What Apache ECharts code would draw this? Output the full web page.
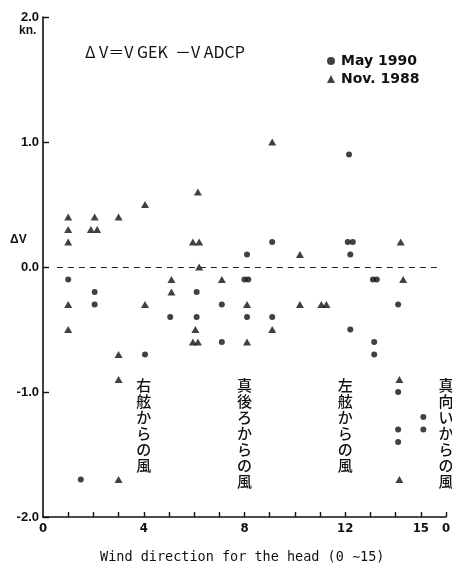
<!DOCTYPE html>
<html><head><meta charset="utf-8">
<script src="https://cdn.jsdelivr.net/npm/echarts@6/dist/echarts.min.js"></script>
<style>html,body{margin:0;padding:0;background:#fff}#c{width:452px;height:565px}</style>
</head><body><div id="c"></div>
<script>
// ---- data ----
const seriesNames = ['May 1990', 'Nov. 1988'];
const mayX = [1.0, 1.5, 2.05, 2.05, 4.05, 5.05, 6.1, 6.1, 7.1, 7.1, 8.0, 8.15, 8.1, 8.1, 9.1, 9.1,
              12.15, 12.1, 12.3, 12.2, 12.2, 13.1, 13.25, 13.15, 13.15, 14.1, 14.1, 14.1, 14.1, 15.1, 15.1];
const mayY = [-0.1, -1.7, -0.2, -0.3, -0.7, -0.4, -0.2, -0.4, -0.3, -0.6, -0.1, -0.1, 0.1, -0.4, 0.2, -0.4,
              0.9, 0.2, 0.2, 0.1, -0.5, -0.1, -0.1, -0.6, -0.7, -0.3, -1.0, -1.3, -1.4, -1.2, -1.3];
const novX = [1.0, 1.0, 1.0, 1.0, 1.0, 2.05, 1.9, 2.15, 3.0, 3.0, 3.0, 3.0, 4.05, 4.05, 5.1, 5.1,
              6.15, 5.95, 6.2, 6.2, 6.05, 5.95, 6.15, 7.1, 8.1, 8.1, 9.1, 9.1, 10.2, 10.2, 11.05, 11.25,
              14.2, 14.3, 14.15, 14.15];
const novY = [0.4, 0.3, 0.2, -0.3, -0.5, 0.4, 0.3, 0.3, 0.4, -0.7, -0.9, -1.7, 0.5, -0.3, -0.1, -0.2,
              0.6, 0.2, 0.2, 0.0, -0.5, -0.6, -0.6, -0.1, -0.3, -0.6, 1.0, -0.5, 0.1, -0.3, -0.3, -0.3,
              0.2, -0.1, -0.9, -1.7];
const xTickValues = [1, 2, 3, 4, 5, 6, 7, 8, 9, 10, 11, 12, 13, 14, 15, 16];
const xLabelValues = [0, 4, 8, 12, 15, 16];
const xLabelTexts = ['0', '4', '8', '12', '15', '0'];
const yLabelValues = [-2, -1, 0, 1, 2];
const yLabelTexts = ['-2.0', '-1.0', '0.0', '1.0', '2.0'];
const zeroLineRange = [0.55, 15.7];
const annotationTexts = ['右舷からの風', '真後ろからの風', '左舷からの風', '真向いからの風'];
const annotationDirs = [4, 8, 12, 16];
const titleText = 'Δ V＝V GEK  －V ADCP';
const xAxisTitle = 'Wind direction for the head (0 ∼15)';
const yAxisTitle = 'ΔV';
const unitText = 'kn.';

// ---- chart ----
const chart = echarts.init(document.getElementById('c'), null, {renderer: 'canvas'});
const ink = '#111';
const option = {
  backgroundColor: '#fff',
  animation: false,
  grid: {left: 43, right: 6, top: 17, bottom: 48, containLabel: false, outerBoundsMode: 'none'},
  xAxis: {
    type: 'value', min: 0, max: 16, interval: 1,
    splitLine: {show: false},
    axisLine: {show: true, onZero: false, lineStyle: {color: ink, width: 1.6}},
    axisTick: {show: true, inside: true, length: 5, customValues: xTickValues, lineStyle: {color: ink, width: 1.4}},
    axisLabel: {
      show: true, customValues: xLabelValues, margin: 5,
      formatter: v => xLabelTexts[xLabelValues.indexOf(v)],
      fontFamily: "'Liberation Sans Narrow', 'DejaVu Sans Condensed', sans-serif",
      fontSize: 13, fontWeight: 'bold', color: ink
    }
  },
  yAxis: {
    type: 'value', min: -2, max: 2, interval: 1,
    splitLine: {show: false},
    axisLine: {show: true, onZero: false, lineStyle: {color: ink, width: 1.6}},
    axisTick: {show: true, inside: true, length: 6, lineStyle: {color: ink, width: 1.4}},
    axisLabel: {
      show: true, margin: 4,
      formatter: v => yLabelTexts[yLabelValues.indexOf(v)],
      fontFamily: "'Liberation Sans', Arial, sans-serif",
      fontSize: 13, fontWeight: 'bold', color: ink
    }
  },
  legend: {
    orient: 'vertical', left: 322, top: 49, itemGap: 4,
    itemWidth: 8, itemHeight: 8,
    data: [{name: seriesNames[0], icon: 'circle'}, {name: seriesNames[1], icon: 'triangle'}],
    textStyle: {fontFamily: "'DejaVu Sans', sans-serif", fontWeight: 'bold', fontSize: 14, color: ink, padding: [0, 0, 0, 1]}
  },
  series: [
    {
      name: seriesNames[0], type: 'scatter', symbol: 'circle', symbolSize: 6,
      itemStyle: {color: ink}, data: mayX.map((x, i) => [x, mayY[i]]),
      markLine: {
        silent: true, symbol: 'none', label: {show: false},
        lineStyle: {type: [6, 5], width: 1.2, color: '#222'},
        data: [[{coord: [zeroLineRange[0], 0]}, {coord: [zeroLineRange[1], 0]}]]
      }
    },
    {
      name: seriesNames[1], type: 'scatter', symbol: 'triangle', symbolSize: [8, 7],
      itemStyle: {color: ink}, data: novX.map((x, i) => [x, novY[i]])
    }
  ]
};
chart.setOption(option);

const graphics = [
  {type: 'text', left: 85, top: 44, style: {text: titleText, font: "16px 'Liberation Sans Narrow', 'Noto Sans CJK JP', sans-serif", fill: ink}},
  {type: 'text', left: 19, top: 25, style: {text: unitText, font: "bold 12px 'Liberation Sans', Arial, sans-serif", fill: ink}},
  {type: 'text', left: 10, top: 234, style: {text: yAxisTitle, font: "bold 12px 'Liberation Sans', Arial, sans-serif", fill: ink}},
  {type: 'text', left: 100, top: 550, style: {text: xAxisTitle, font: "13.5px 'DejaVu Sans Mono', monospace", fill: ink}}
];
annotationTexts.forEach((t, i) => {
  const px = chart.convertToPixel({gridIndex: 0}, [annotationDirs[i], 0]);
  graphics.push({
    type: 'text', x: px[0], y: 377,
    style: {text: t.split('').join('\n'), font: "500 15px 'Noto Sans CJK JP', sans-serif", lineHeight: 16, align: 'center', verticalAlign: 'top', fill: ink}
  });
});
chart.setOption({graphic: graphics});
</script>
</body></html>
